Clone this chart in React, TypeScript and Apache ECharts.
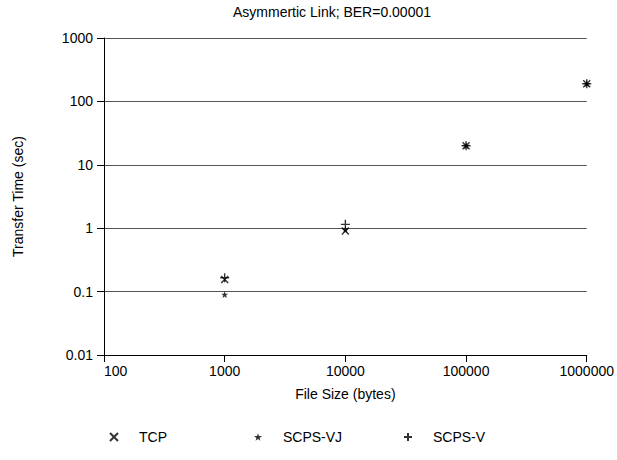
import React, { useEffect, useRef } from "react";
import * as echarts from "echarts";

const fileSizes = [1000, 10000, 100000, 1000000];
const tcpTimes = [0.155, 0.9, 20, 190];
const scpsVJTimes = [0.09, 0.95, 20, 190];
const scpsVTimes = [0.165, 1.15, 20, 190];
const seriesNames = ["TCP", "SCPS-VJ", "SCPS-V"];
const yTicks = [0.01, 0.1, 1, 10, 100, 1000];

const crossPath = "path://M0,0L8,8M8,0L0,8";
const plusPath = "path://M4,0L4,8M0,4L8,4";
const starPath =
  "path://M5,0L6.2,3.6L10,3.6L7,5.9L8.1,9.5L5,7.3L1.9,9.5L3,5.9L0,3.6L3.8,3.6Z";

const font = "'Liberation Sans', Arial, sans-serif";
const fs = 14;

export default function App() {
  const ref = useRef<HTMLDivElement>(null);
  useEffect(() => {
    if (!ref.current) return;
    const chart = echarts.init(ref.current, null, { renderer: "svg" });
    const zip = (ys: number[]) => fileSizes.map((x, i) => [x, ys[i]]);
    const strokeStyle = { color: "transparent", borderColor: "#000", borderWidth: 1.4 };
    const legendBase = {
      orient: "horizontal",
      top: 425,
      padding: 5,
      itemWidth: 8,
      itemHeight: 8,
      textStyle: { fontFamily: font, fontSize: fs, color: "#000", padding: [0, 0, 0, 16] },
    };
    chart.setOption({
      animation: false,
      backgroundColor: "#fff",
      title: {
        text: "Asymmertic Link; BER=0.00001",
        left: 327,
        textAlign: "center",
        top: 0,
        textStyle: { fontFamily: font, fontSize: fs, fontWeight: "normal", color: "#000" },
      },
      legend: [
        { ...legendBase, left: 104, data: [seriesNames[0]] },
        { ...legendBase, left: 249, data: [seriesNames[1]] },
        { ...legendBase, left: 398, data: [seriesNames[2]] },
      ],
      grid: { left: 104, right: 30, top: 38, bottom: 105, containLabel: false },
      xAxis: {
        type: "log",
        logBase: 10,
        min: 100,
        max: 1000000,
        name: "File Size (bytes)",
        nameLocation: "middle",
        nameGap: 32,
        nameTextStyle: { fontFamily: font, fontSize: fs, color: "#000" },
        axisLine: { show: true, lineStyle: { color: "#000", width: 1 } },
        axisTick: { show: true, length: 7, lineStyle: { color: "#000" } },
        axisLabel: {
          fontFamily: font,
          fontSize: fs,
          color: "#000",
          margin: 9,
          alignMinLabel: "left",
          formatter: (v: number) => String(Math.round(v)),
        },
        splitLine: { show: false },
        minorTick: { show: false },
      },
      yAxis: {
        type: "log",
        logBase: 10,
        min: yTicks[0],
        max: yTicks[yTicks.length - 1],
        name: "Transfer Time (sec)",
        nameLocation: "middle",
        nameGap: 79,
        nameTextStyle: { fontFamily: font, fontSize: fs, color: "#000" },
        axisLine: { show: true, lineStyle: { color: "#000", width: 1 } },
        axisTick: { show: true, length: 7, inside: false, lineStyle: { color: "#000" } },
        axisLabel: {
          fontFamily: font,
          fontSize: fs,
          color: "#000",
          margin: 11,
          formatter: (v: number) => {
            const t = yTicks.find((k) => Math.abs(Math.log10(k) - Math.log10(v)) < 1e-6);
            return t !== undefined ? String(t) : String(v);
          },
        },
        splitLine: { show: true, lineStyle: { color: "#555", width: 1 } },
      },
      series: [
        {
          name: seriesNames[0],
          type: "scatter",
          symbol: crossPath,
          symbolSize: 7,
          itemStyle: strokeStyle,
          data: zip(tcpTimes),
          z: 3,
        },
        {
          name: seriesNames[1],
          type: "scatter",
          symbol: starPath,
          symbolSize: 7,
          itemStyle: { color: "#000" },
          data: zip(scpsVJTimes),
          z: 4,
        },
        {
          name: seriesNames[2],
          type: "scatter",
          symbol: plusPath,
          symbolSize: 9,
          itemStyle: strokeStyle,
          data: zip(scpsVTimes),
          z: 5,
        },
      ],
    });
    return () => chart.dispose();
  }, []);
  return <div ref={ref} style={{ width: 617, height: 460, position: "absolute", left: 0, top: 0 }} />;
}
